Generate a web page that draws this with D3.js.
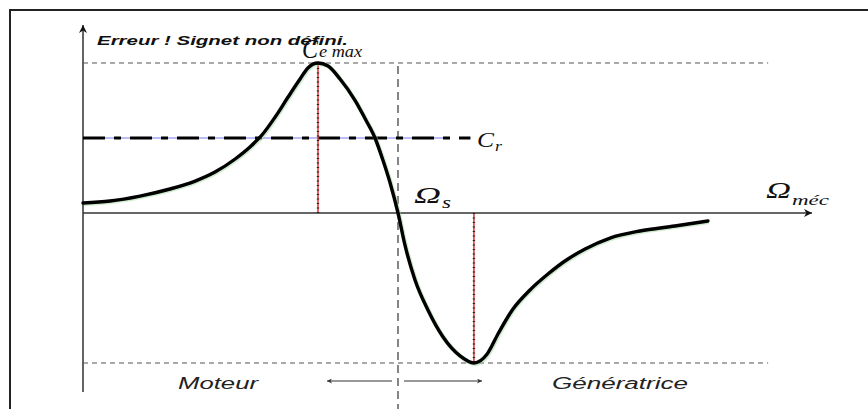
<!DOCTYPE html>
<html>
<head>
<meta charset="utf-8">
<script src="https://cdn.jsdelivr.net/npm/d3@7"></script>
<style>
  body { margin: 0; background: #fff; }
  svg { display: block; }
</style>
</head>
<body>
<script>
// vitesse normalisee (Omega / Omega_s) et couple normalise (Ce / Ce max)
let omega = [0, 0.086, 0.181, 0.276, 0.356, 0.419, 0.483, 0.530, 0.568, 0.610, 0.651, 0.689,
    0.714, 0.746, 0.778, 0.816, 0.863, 0.898, 0.927, 0.952, 0.975, 1.0, 1.022, 1.054,
    1.095, 1.143, 1.197, 1.241, 1.283, 1.319, 1.365, 1.419, 1.476, 1.530, 1.594, 1.673,
    1.768, 1.879, 1.984];
let couple = [0.067, 0.08, 0.113, 0.16, 0.213, 0.273, 0.36, 0.44, 0.52, 0.64, 0.773, 0.893,
    0.967, 1.0, 0.98, 0.893, 0.753, 0.62, 0.5, 0.353, 0.2, 0, -0.213, -0.447,
    -0.647, -0.827, -0.953, -1.0, -0.94, -0.8, -0.64, -0.513, -0.407, -0.32, -0.24, -0.167,
    -0.12, -0.087, -0.053];
let crValue = 0.5;
let ceMax = 1.0;
let ceMin = -1.0;
let omegaCeMax = 0.746;
let omegaCeMin = 1.241;
let omegaS = 1.0;
let data = omega.map((d, i) => ({ w: d, c: couple[i] }));

let width = 868;
let height = 409;

let xScale = d3.scaleLinear().domain([0, 1]).range([83, 398]);
let yScale = d3.scaleLinear().domain([0, 1]).range([213, 63]);

let svg = d3.select("body").append("svg")
    .attr("width", width)
    .attr("height", height);

let defs = svg.append("defs");
defs.append("marker")
    .attr("id", "tip")
    .attr("viewBox", "0 0 10 10")
    .attr("refX", 10).attr("refY", 5)
    .attr("markerWidth", 10).attr("markerHeight", 8)
    .attr("markerUnits", "userSpaceOnUse")
    .attr("orient", "auto")
    .append("path")
    .attr("d", "M0,0 L10,5 L0,10 L3,5 Z")
    .attr("fill", "#111");
defs.append("marker")
    .attr("id", "small")
    .attr("viewBox", "0 0 10 10")
    .attr("refX", 10).attr("refY", 5)
    .attr("markerWidth", 8).attr("markerHeight", 5)
    .attr("markerUnits", "userSpaceOnUse")
    .attr("orient", "auto")
    .append("path")
    .attr("d", "M0,0 L10,5 L0,10 L3,5 Z")
    .attr("fill", "#333");

// cadre
svg.append("path")
    .attr("d", "M10,409 L10,10 L868,10")
    .attr("fill", "none")
    .attr("stroke", "#222")
    .attr("stroke-width", 2);

// axes
let x0 = xScale(0);
svg.append("line")
    .attr("x1", x0).attr("y1", 392)
    .attr("x2", x0).attr("y2", 25)
    .attr("stroke", "#111").attr("stroke-width", 1.3)
    .attr("marker-end", "url(#tip)");
svg.append("line")
    .attr("x1", x0).attr("y1", yScale(0))
    .attr("x2", 812).attr("y2", yScale(0))
    .attr("stroke", "#333").attr("stroke-width", 1.3)
    .attr("marker-end", "url(#tip)");

// lignes de reference pointillees
let xEnd = xScale(2.175);
[ceMax, ceMin].forEach(v => {
    svg.append("line")
        .attr("x1", x0).attr("x2", xEnd)
        .attr("y1", yScale(v)).attr("y2", yScale(v))
        .attr("stroke", "#555").attr("stroke-width", 1.2)
        .attr("stroke-dasharray", "5,4");
});
svg.append("line")
    .attr("x1", xScale(omegaS)).attr("x2", xScale(omegaS))
    .attr("y1", yScale(0.98)).attr("y2", height)
    .attr("stroke", "#444").attr("stroke-width", 1.3)
    .attr("stroke-dasharray", "8,5");

// couple resistant
svg.append("line")
    .attr("x1", x0).attr("x2", xScale(1.165))
    .attr("y1", yScale(crValue)).attr("y2", yScale(crValue))
    .attr("stroke", "#7a7aee").attr("stroke-width", 1.2);
svg.append("line")
    .attr("x1", x0).attr("x2", xScale(1.23))
    .attr("y1", yScale(crValue)).attr("y2", yScale(crValue))
    .attr("stroke", "#000").attr("stroke-width", 3)
    .attr("stroke-dasharray", "22,9,7,9");

// verticales rouges aux extremums
[[omegaCeMax, ceMax], [omegaCeMin, ceMin]].forEach(p => {
    svg.append("line")
        .attr("x1", xScale(p[0])).attr("x2", xScale(p[0]))
        .attr("y1", yScale(0)).attr("y2", yScale(p[1]))
        .attr("stroke", "#e23a3a").attr("stroke-width", 1.6);
    svg.append("line")
        .attr("x1", xScale(p[0])).attr("x2", xScale(p[0]))
        .attr("y1", yScale(0)).attr("y2", yScale(p[1]))
        .attr("stroke", "#222").attr("stroke-width", 2.4)
        .attr("stroke-dasharray", "1,3.5");
});

// caracteristique couple / vitesse
let line = d3.line()
    .x(d => xScale(d.w))
    .y(d => yScale(d.c))
    .curve(d3.curveMonotoneX);
svg.append("path")
    .attr("d", line(data))
    .attr("fill", "none")
    .attr("stroke", "#9fd89f")
    .attr("stroke-width", 4.5)
    .attr("opacity", 0.5)
    .attr("transform", "translate(0.8,0.8)");
svg.append("path")
    .attr("d", line(data))
    .attr("fill", "none")
    .attr("stroke", "#000")
    .attr("stroke-width", 3.4)
    .attr("stroke-linejoin", "round")
    .attr("stroke-linecap", "round");

// textes
svg.append("text")
    .attr("x", 97).attr("y", 45)
    .attr("textLength", 251)
    .attr("lengthAdjust", "spacingAndGlyphs")
    .style("font-family", "Liberation Sans, Arial, sans-serif")
    .style("font-weight", "bold")
    .style("font-style", "italic")
    .style("font-size", "13px")
    .style("fill", "#111")
    .text("Erreur ! Signet non défini.");

let serif = "Liberation Serif, Times New Roman, serif";
function label(x, y, main, mainW, sub, subW, size, subSize, dy) {
    svg.append("text")
        .attr("x", x).attr("y", y)
        .attr("textLength", mainW)
        .attr("lengthAdjust", "spacingAndGlyphs")
        .style("font-family", serif)
        .style("font-style", "italic")
        .style("font-size", size + "px")
        .style("fill", "#111")
        .text(main);
    svg.append("text")
        .attr("x", x + mainW + 1).attr("y", y + dy)
        .attr("textLength", subW)
        .attr("lengthAdjust", "spacingAndGlyphs")
        .style("font-family", serif)
        .style("font-style", "italic")
        .style("font-size", subSize + "px")
        .style("fill", "#111")
        .text(sub);
}
label(302, 58, "C", 16, "e max", 43, 27, 17, -1);
label(477, 147, "C", 17, "r", 7, 22, 15, 4);
label(414, 203, "Ω", 27, "s", 9, 23, 16, 5);
label(766, 198, "Ω", 25, "méc", 37, 23, 15, 7);

let sans = "Liberation Sans, Arial, sans-serif";
svg.append("text")
    .attr("x", 178).attr("y", 389)
    .attr("textLength", 80)
    .attr("lengthAdjust", "spacingAndGlyphs")
    .style("font-family", sans)
    .style("font-style", "italic")
    .style("font-size", "16px")
    .style("fill", "#222")
    .text("Moteur");
svg.append("text")
    .attr("x", 552).attr("y", 389)
    .attr("textLength", 136)
    .attr("lengthAdjust", "spacingAndGlyphs")
    .style("font-family", sans)
    .style("font-style", "italic")
    .style("font-size", "16px")
    .style("fill", "#222")
    .text("Génératrice");

// fleches moteur / generatrice
svg.append("line")
    .attr("x1", xScale(omegaS) - 6).attr("x2", 327)
    .attr("y1", 381).attr("y2", 381)
    .attr("stroke", "#333").attr("stroke-width", 1.2)
    .attr("marker-end", "url(#small)");
svg.append("line")
    .attr("x1", xScale(omegaS) + 6).attr("x2", 482)
    .attr("y1", 381).attr("y2", 381)
    .attr("stroke", "#333").attr("stroke-width", 1.2)
    .attr("marker-end", "url(#small)");
</script>
</body>
</html>
